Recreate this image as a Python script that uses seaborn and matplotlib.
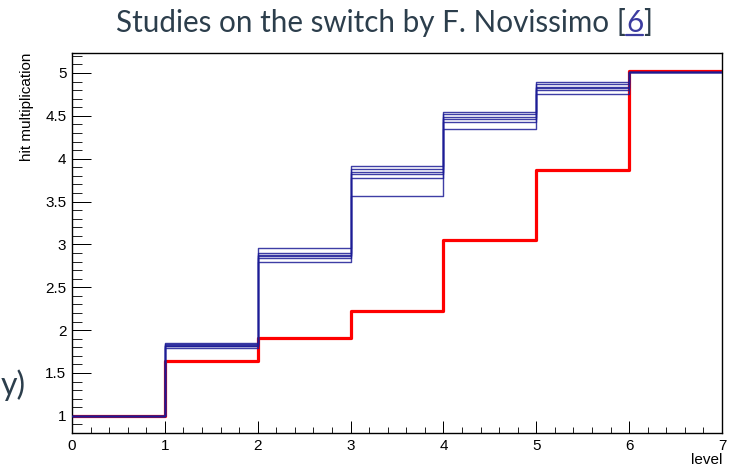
import matplotlib
matplotlib.use("Agg")
import matplotlib.pyplot as plt
import pandas as pd
import seaborn as sns
from matplotlib.ticker import MultipleLocator
from matplotlib.lines import Line2D

# Level bin edges (7 bins, 0..7)
level_edges = [0, 1, 2, 3, 4, 5, 6, 7]

# Hit multiplication per level for the individual switch runs (blue)
run_a = [1.00, 1.85, 2.96, 3.92, 4.55, 4.90, 5.01]
run_b = [1.00, 1.84, 2.90, 3.88, 4.52, 4.87, 5.01]
run_c = [1.00, 1.83, 2.88, 3.85, 4.49, 4.84, 5.01]
run_d = [1.00, 1.82, 2.86, 3.82, 4.46, 4.82, 5.01]
run_e = [1.00, 1.81, 2.84, 3.78, 4.43, 4.80, 5.01]
run_f = [1.00, 1.79, 2.79, 3.57, 4.35, 4.76, 5.01]
run_names = ["a", "b", "c", "d", "e", "f"]
runs = [run_a, run_b, run_c, run_d, run_e, run_f]

# Reference curve (red)
reference = [1.00, 1.64, 1.91, 2.22, 3.05, 3.87, 5.02]

x_ticks = [0, 1, 2, 3, 4, 5, 6, 7]
y_ticks = [1, 1.5, 2, 2.5, 3, 3.5, 4, 4.5, 5]
y_tick_labels = ["1", "1.5", "2", "2.5", "3", "3.5", "4", "4.5", "5"]


def step_frame(values, name):
    # histogram contents as a step line: repeat the last bin at the upper edge
    return pd.DataFrame({"level": level_edges,
                         "mult": list(values) + [values[-1]],
                         "run": name})


blue_df = pd.concat([step_frame(v, n) for v, n in zip(runs, run_names)],
                    ignore_index=True)
red_df = step_frame(reference, "reference")

W, H = 730, 467
sns.set_theme(style="white")
plt.rcParams["font.family"] = ["Liberation Sans", "DejaVu Sans"]

fig = plt.figure(figsize=(W / 100, H / 100), dpi=100)
fig.patch.set_facecolor("white")

ax_l, ax_r, ax_t, ax_b = 72, 722, 53, 433
ax = fig.add_axes([ax_l / W, 1 - ax_b / H, (ax_r - ax_l) / W, (ax_b - ax_t) / H])
ax.set_facecolor("white")

sns.lineplot(data=red_df, x="level", y="mult", color="#ff0000", lw=2.3,
             drawstyle="steps-post", ax=ax, zorder=2, legend=False)
sns.lineplot(data=blue_df, x="level", y="mult", units="run", estimator=None,
             color="#1c1c96", lw=1.0, alpha=0.85, drawstyle="steps-post",
             ax=ax, zorder=3, legend=False)

ax.set_xlim(0, 7)
ax.set_ylim(0.80, 5.233)

ax.set_xticks(x_ticks)
ax.set_xticklabels([str(t) for t in x_ticks])
ax.set_yticks(y_ticks)
ax.set_yticklabels(y_tick_labels)
ax.xaxis.set_minor_locator(MultipleLocator(0.2))
ax.yaxis.set_minor_locator(MultipleLocator(0.1))

px = 0.72
ax.tick_params(axis="x", which="major", direction="in", length=12 * px,
               width=1 * px, labelsize=11, pad=4, colors="black",
               bottom=True, top=False)
ax.tick_params(axis="x", which="minor", direction="in", length=6 * px,
               width=1 * px, bottom=True, top=False)
ax.tick_params(axis="y", which="major", direction="in", length=19 * px,
               width=1 * px, labelsize=11, pad=4, colors="black",
               left=True, right=False)
ax.tick_params(axis="y", which="minor", direction="in", length=9.5 * px,
               width=1 * px, left=True, right=False)

for s in ax.spines.values():
    s.set_visible(True)
    s.set_color("black")
    s.set_linewidth(1.0)

ax.set_xlabel("")
ax.set_ylabel("")
fig.text(ax_r / W, 1 - 453 / H, "level", ha="right", va="top", fontsize=11,
         color="black")
fig.text(27 / W, 1 - ax_t / H, "hit multiplication", rotation=90, ha="center",
         va="top", fontsize=11, color="black")

# Slide title with linked reference number
title_color = "#2c3e4c"
link_color = "#3c3ca0"
title_font = ["Lato", "DejaVu Sans"]
renderer = fig.canvas.get_renderer()
parts = [("Studies on the switch by F. Novissimo [", title_color),
         ("6", link_color), ("]", title_color)]
base_size = 20
target_left, target_right = 116, 653
probe = fig.text(0, 0, "".join(p for p, _ in parts), fontsize=base_size,
                 family=title_font)
w = probe.get_window_extent(renderer).width
probe.remove()
size = base_size * (target_right - target_left) / w

x_cursor = target_left
baseline_y = 1 - 32 / H
for txt, col in parts:
    t = fig.text(x_cursor / W, baseline_y, txt, fontsize=size, family=title_font,
                 color=col, ha="left", va="baseline")
    bb = t.get_window_extent(renderer)
    if txt == "6":
        fig.add_artist(Line2D([bb.x0 / W, bb.x1 / W],
                              [baseline_y - 3.5 / H, baseline_y - 3.5 / H],
                              color=link_color, lw=1.6,
                              transform=fig.transFigure))
    x_cursor = bb.x1

# Fragment of slide text at the left edge
fig.text(1 / W, 1 - 385 / H, "y)", fontsize=23, family=title_font,
         color=title_color, ha="left", va="center")

fig.savefig("out.png", dpi=100, facecolor="white")
